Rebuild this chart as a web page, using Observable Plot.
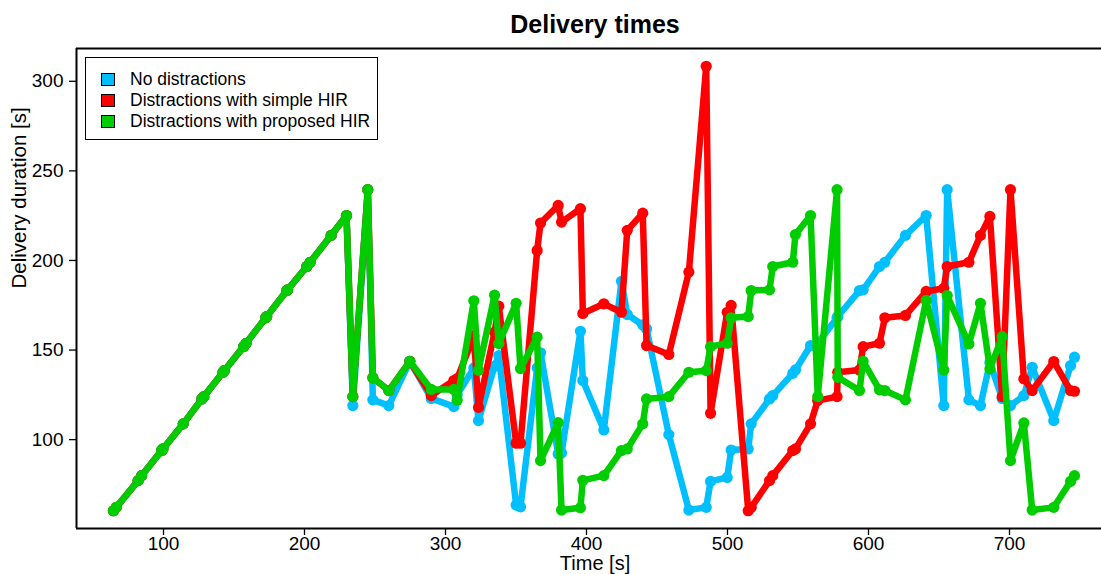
<!DOCTYPE html>
<html><head><meta charset="utf-8">
<script src="https://cdn.jsdelivr.net/npm/d3@7"></script>
<script src="https://cdn.jsdelivr.net/npm/@observablehq/plot@0.6"></script>
<style>
html,body{margin:0;padding:0;background:#fff;overflow:hidden;}
#wrap{position:relative;width:1101px;height:574px;font-family:"Liberation Sans",Arial,Helvetica,sans-serif;color:#000;}
#legend{position:absolute;left:85px;top:57px;width:293px;height:83px;border:1.6px solid #000;background:#fff;box-sizing:border-box;}
.row{position:absolute;left:0;height:20px;font-size:17.5px;line-height:20px;white-space:nowrap;}
.key{position:absolute;left:15px;top:4px;width:12px;height:11px;border:1.3px solid #000;}
.lab{position:absolute;left:44px;top:0;}
</style></head>
<body><div id="wrap"></div>
<script>
// time of delivery completion [s]
const time = [64.5, 66.5, 82.0, 84.5, 98.7, 99.6, 114.0, 127.2, 128.6, 142.2, 143.1, 156.8, 158.6, 172.5, 173.2, 187.5, 188.0, 201.6, 204.0, 218.9, 229.8,
  234.3, 244.9, 248.5, 259.8, 274.7, 289.9, 305.9, 308.3, 320.1, 323.4, 334.8, 337.8, 350.1, 353.2, 365.0, 367.4, 379.9, 382.3, 395.7, 397.4,
  412.3, 424.8, 428.9, 439.9, 442.6, 458.4, 472.6, 484.9, 488.0, 499.8, 502.6, 514.7, 516.8, 529.8, 532.1, 546.3, 548.2, 558.9, 564.0, 577.7,
  578.2, 593.6, 596.2, 607.8, 611.6, 626.2, 640.9, 653.4, 655.8, 671.2, 679.4, 686.1, 694.8, 700.7, 710.2, 716.1, 731.4, 743.3, 746.1];

const noDistractions = [60.3, 62.2, 77.1, 79.9, 93.9, 94.8, 108.8, 122.7, 124.0, 137.6, 138.5, 151.9, 153.8, 168.0, 168.7, 183.2, 183.6, 196.6, 199.0, 214.0, 225.1,
  119.0, 239.5, 122.2, 119.0, 143.7, 123.0, 118.4, 125.0, 140.0, 110.6, 141.0, 146.9, 63.5, 62.5, 140.0, 148.5, 92.0, 92.5, 160.5, 133.0,
  105.4, 188.4, 169.8, 164.0, 161.8, 102.8, 60.7, 62.2, 76.7, 78.9, 94.2, 94.8, 108.8, 122.7, 124.6, 137.0, 138.9, 152.5, 153.8, 168.0,
  168.7, 183.2, 183.6, 196.6, 199.0, 214.0, 225.1, 119.0, 239.5, 122.2, 119.0, 143.0, 123.0, 119.0, 124.6, 140.4, 110.6, 141.3, 146.0];

const simpleHIR = [60.3, 62.2, 77.1, 79.9, 93.9, 94.8, 108.8, 122.7, 124.0, 137.6, 138.5, 151.9, 153.8, 168.0, 168.7, 183.2, 183.6, 196.6, 199.0, 214.0, 225.1,
  124.0, 239.5, 134.5, 127.4, 143.7, 124.6, 133.0, 134.0, 158.0, 118.0, 160.0, 174.5, 98.0, 98.0, 205.6, 220.9, 230.7, 221.4, 228.9, 170.4,
  175.8, 171.1, 216.8, 226.4, 152.5, 147.5, 193.5, 308.4, 114.7, 171.1, 174.9, 60.3, 62.2, 77.1, 79.9, 93.9, 94.8, 108.8, 121.8, 124.0,
  137.6, 138.9, 151.9, 153.8, 168.0, 169.3, 182.7, 184.5, 196.6, 199.0, 214.0, 224.6, 124.0, 239.5, 133.9, 127.4, 143.6, 127.4, 127.0];

const proposedHIR = [60.3, 62.2, 77.1, 79.9, 93.9, 94.8, 108.8, 122.7, 124.0, 137.6, 138.5, 151.9, 153.8, 168.0, 168.7, 183.2, 183.6, 196.6, 199.0, 214.0, 225.1,
  124.0, 239.5, 134.5, 127.4, 143.7, 128.0, 128.0, 122.0, 177.5, 138.7, 180.6, 153.6, 176.1, 139.7, 157.2, 88.3, 109.5, 60.7, 62.0, 77.3,
  79.9, 93.9, 94.8, 108.8, 122.7, 124.0, 137.6, 138.5, 151.9, 153.8, 168.0, 168.7, 183.2, 183.6, 196.6, 199.0, 214.5, 225.1, 124.0, 239.5,
  134.8, 127.4, 143.7, 127.8, 127.4, 122.2, 177.7, 138.9, 180.4, 153.4, 176.1, 139.5, 157.5, 88.3, 109.3, 60.7, 62.2, 76.7, 79.9];

const seriesNames = ["No distractions", "Distractions with simple HIR", "Distractions with proposed HIR"];
const seriesColors = ["#00BFFF", "#FF0000", "#00CD00"];
const seriesValues = [noDistractions, simpleHIR, proposedHIR];
const xTicks = [100, 200, 300, 400, 500, 600, 700];
const yTicks = [100, 150, 200, 250, 300];
const xDomain = [38.3, 773.4];
const yDomain = [50.4, 318.3];

const seriesMarks = seriesValues.flatMap((vals, k) => {
  const rows = time.map((t, i) => ({t, d: vals[i]}));
  return [
    Plot.line(rows, {x: "t", y: "d", stroke: seriesColors[k], strokeWidth: 6.5, strokeLinejoin: "round", strokeLinecap: "round"}),
    Plot.dot(rows, {x: "t", y: "d", r: 5.6, fill: seriesColors[k]})
  ];
});

const chart = Plot.plot({
  width: 1101, height: 574,
  marginLeft: 76, marginRight: 0, marginTop: 48, marginBottom: 46,
  style: {fontFamily: '"Liberation Sans", Arial, Helvetica, sans-serif', background: "transparent", color: "#000"},
  x: {domain: xDomain, range: [76, 76 + (xDomain[1] - xDomain[0]) * 1.41]},
  y: {domain: yDomain},
  marks: [
    Plot.axisX({ticks: xTicks, tickSize: 7, tickPadding: 1, fontSize: 19, label: null, strokeWidth: 1.3}),
    Plot.axisY({ticks: yTicks, tickSize: 7, tickPadding: 6, fontSize: 19, label: null, strokeWidth: 1.3}),
    ...seriesMarks,
    Plot.ruleY([yDomain[0], yDomain[1]], {stroke: "#000", strokeWidth: 2}),
    Plot.ruleX([xDomain[0]], {stroke: "#000", strokeWidth: 2}),
    Plot.text(["Delivery times"], {frameAnchor: "top", lineAnchor: "middle", dx: 6, dy: -24, fontSize: 25, fontWeight: "bold"}),
    Plot.text(["Time [s]"], {frameAnchor: "bottom", lineAnchor: "middle", dx: 6, dy: 35, fontSize: 20}),
    Plot.text(["Delivery duration [s]"], {frameAnchor: "left", lineAnchor: "middle", dx: -57, rotate: -90, fontSize: 20.5})
  ]
});
const wrap = document.getElementById("wrap");
wrap.appendChild(chart);

const legend = document.createElement("div");
legend.id = "legend";
seriesNames.forEach((name, i) => {
  const row = document.createElement("div");
  row.className = "row";
  row.style.top = (11 + i * 21) + "px";
  const key = document.createElement("div");
  key.className = "key";
  key.style.background = seriesColors[i];
  const lab = document.createElement("span");
  lab.className = "lab";
  lab.textContent = name;
  row.appendChild(key); row.appendChild(lab);
  legend.appendChild(row);
});
wrap.appendChild(legend);
</script></body></html>
